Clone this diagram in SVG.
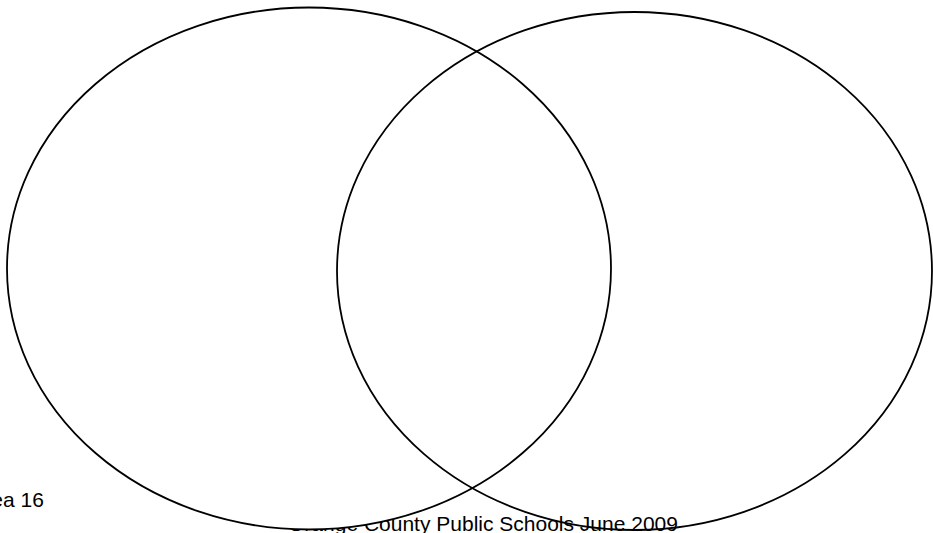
<svg xmlns="http://www.w3.org/2000/svg" width="933" height="533" viewBox="0 0 933 533">
<style>
.t{font-family:"Liberation Sans",Arial,sans-serif;font-size:21px;fill:#000}
.e{stroke:#000;stroke-width:1.8}
</style>
<rect width="933" height="533" fill="#fff"/>
<text class="t" x="-8.7" y="507">ea 16</text>
<text class="t" x="483" y="531" text-anchor="middle">Orange County Public Schools June 2009</text>
<g id="left-set"><ellipse class="e" cx="309" cy="268.5" rx="302" ry="261" fill="#fff"/></g>
<g id="right-set"><ellipse class="e" cx="634.5" cy="271" rx="297.5" ry="259" fill="none"/></g>
<g id="connectors"/>
</svg>
